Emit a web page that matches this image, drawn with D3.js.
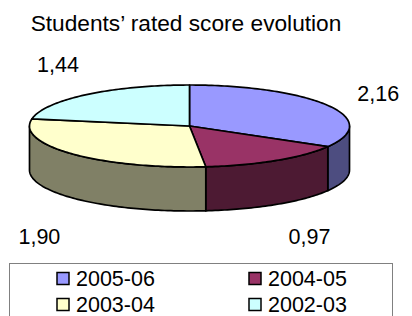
<!DOCTYPE html>
<meta charset="utf-8">
<script src="https://d3js.org/d3.v7.min.js"></script>
<style>
  body { margin: 0; background: #fff; }
  text { font-family: "Liberation Sans", Arial, sans-serif; fill: #000; }
</style>
<body>
<svg width="412" height="316"></svg>
<script>
var categories = ["2005-06", "2004-05", "2003-04", "2002-03"];
var values = [2.16, 0.97, 1.90, 1.44];
var valueLabels = ["2,16", "0,97", "1,90", "1,44"];
var colors = ["#9999FF", "#993366", "#FFFFCC", "#CCFFFF"];
var title = "Students\u2019 rated score evolution";

var svg = d3.select("svg");
var cx = 189.5, cy = 126, rx = 160, ry = 41, depth = 44;

var color = d3.scaleOrdinal().domain(categories).range(colors);
var sideColor = function(c){ return d3.interpolateRgb(c, "#000")(0.5); };

var pie = d3.pie().sort(null).value(function(d){ return d.value; });
var arcs = pie(categories.map(function(c, i){ return {name: c, value: values[i], label: valueLabels[i]}; }));

function pt(a, dy){ return [cx + rx * Math.sin(a), cy - ry * Math.cos(a) + (dy || 0)]; }
function arcPts(a0, a1, dy){
  var n = Math.max(2, Math.ceil((a1 - a0) / 0.02));
  return d3.range(n + 1).map(function(i){ return pt(a0 + (a1 - a0) * i / n, dy); });
}
var line = d3.line();

var g = svg.append("g");

// sides (only the front half is visible)
arcs.forEach(function(d){
  var s = Math.max(d.startAngle, Math.PI / 2), e = Math.min(d.endAngle, 3 * Math.PI / 2);
  if (s >= e) return;
  var pts = arcPts(s, e, 0).concat(arcPts(s, e, depth).reverse());
  g.append("path")
    .attr("d", line(pts) + "Z")
    .attr("fill", sideColor(color(d.data.name)))
    .attr("stroke", "#000")
    .attr("stroke-width", 1.7)
    .attr("stroke-linejoin", "round");
});

// tops
arcs.forEach(function(d){
  var pts = [[cx, cy]].concat(arcPts(d.startAngle, d.endAngle, 0));
  g.append("path")
    .attr("d", line(pts) + "Z")
    .attr("fill", color(d.data.name))
    .attr("stroke", "#000")
    .attr("stroke-width", 1.7)
    .attr("stroke-linejoin", "round");
});

// value labels: back ones on an ellipse around the top, front ones in a row under the pie
var la = 212, lb = 88, belowGap = 25, lshift = 5;
arcs.forEach(function(d){
  var m = (d.startAngle + d.endAngle) / 2;
  var x = cx + lshift + la * Math.sin(m);
  var y = Math.cos(m) > 0
    ? cy - lb * Math.cos(m) + depth * (1 - Math.cos(m)) / 2
    : cy + ry + depth + belowGap;
  svg.append("text")
    .attr("x", x).attr("y", y)
    .attr("dy", "0.36em")
    .attr("text-anchor", "middle")
    .style("font-size", "21.5px")
    .text(d.data.label);
});

svg.append("text")
  .attr("x", 186).attr("y", 31)
  .attr("text-anchor", "middle")
  .style("font-size", "22.7px")
  .text(title);

// legend
var lg = svg.append("g");
lg.append("rect")
  .attr("x", 9.5).attr("y", 263.5)
  .attr("width", 383).attr("height", 80)
  .attr("fill", "#fff").attr("stroke", "#808080").attr("stroke-width", 1);

var colX = d3.scaleOrdinal().domain([0, 1]).range([57, 249]);
var rowY = d3.scaleOrdinal().domain([0, 1]).range([278.5, 304.5]);
categories.forEach(function(c, i){
  var col = i % 2, row = Math.floor(i / 2);
  lg.append("rect")
    .attr("x", colX(col)).attr("y", rowY(row) - 6)
    .attr("width", 12).attr("height", 12)
    .attr("fill", color(c)).attr("stroke", "#000").attr("stroke-width", 1.5);
  lg.append("text")
    .attr("x", colX(col) + 19).attr("y", rowY(row))
    .attr("dy", "0.36em")
    .style("font-size", "21.5px")
    .text(c);
});
</script>
</body>
